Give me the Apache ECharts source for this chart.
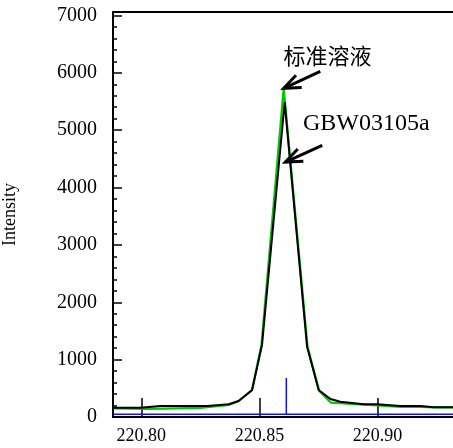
<!DOCTYPE html>
<html>
<head>
<meta charset="utf-8">
<script src="https://cdn.jsdelivr.net/npm/echarts@6/dist/echarts.min.js"></script>
</head>
<body style="margin:0">
<div id="main" style="width:453px;height:448px"></div>
<script>
// axis ranges and tick labels
var xRange = [220.788, 220.932];
var xTicks = [220.80, 220.85, 220.90];
var yRange = [0, 7060];
var yMajor = [0, 1000, 2000, 3000, 4000, 5000, 6000, 7000];
var yMinor = [];
for (var v = 0; v <= 7000; v += 200) yMinor.push(v);

// 标准溶液 (green)
var standard = [
  [220.7883, 150], [220.8040, 140], [220.8250, 160], [220.8370, 210],
  [220.8412, 279], [220.8469, 470], [220.8509, 1260], [220.8603, 5730],
  [220.8704, 1224], [220.8753, 460], [220.8803, 250], [220.8843, 240],
  [220.8942, 215], [220.9000, 200], [220.9100, 175], [220.9182, 175],
  [220.9239, 169], [220.9322, 169]
];
// GBW03105a (black)
var sample = [
  [220.7883, 162], [220.7996, 162], [220.8081, 192], [220.8278, 192],
  [220.8370, 221], [220.8412, 279], [220.8469, 470], [220.8511, 1254],
  [220.8607, 5490], [220.8702, 1224], [220.8751, 470], [220.8801, 313],
  [220.8843, 266], [220.8942, 221], [220.8999, 221], [220.9097, 192],
  [220.9182, 192], [220.9239, 169], [220.9322, 169]
];
// blue reference line
var baseline = 50;
var lineX = 220.8614;
var lineH = 680;

// annotations: text, text centre, arrow tail, arrow tip
var noteText = ['标准溶液', 'GBW03105a'];
var noteAt = [[220.8788, 6300], [220.8953, 5119]];
var noteTail = [[220.8758, 6025], [220.8766, 4736]];
var noteTip = [[220.8603, 5730], [220.8610, 4445]];
var noteFont = ['Noto Sans CJK SC', 'Liberation Serif'];

var chart = echarts.init(document.getElementById('main'));

var serif = 'Liberation Serif';
var labelText = { color: '#000', fontFamily: serif, fontStyle: 'normal', fontWeight: 'normal' };

chart.setOption({
  backgroundColor: '#fff',
  animation: false,
  textStyle: { fontFamily: serif },
  grid: { left: 113, right: 0, top: 12, bottom: 31, outerBoundsMode: 'none', containLabel: false },
  xAxis: [{
    type: 'value',
    min: xRange[0],
    max: xRange[1],
    axisLine: { lineStyle: { color: '#000', width: 2 } },
    axisTick: { inside: true, length: 19, customValues: xTicks, lineStyle: { color: '#000', width: 1.5 } },
    axisLabel: {
      customValues: xTicks, margin: 10,
      formatter: function (v) { return '{a|' + v.toFixed(2) + '}'; },
      rich: { a: Object.assign({ fontSize: 18 }, labelText) }
    },
    splitLine: { show: false }
  }, {
    type: 'value',
    position: 'top',
    min: xRange[0],
    max: xRange[1],
    axisLine: { show: true, onZero: false, lineStyle: { color: '#000', width: 2 } },
    axisTick: { show: false },
    axisLabel: { show: false },
    splitLine: { show: false }
  }],
  yAxis: [{
    type: 'value',
    min: yRange[0],
    max: yRange[1],
    name: 'Intensity',
    nameLocation: 'middle',
    nameRotate: 90,
    nameGap: 94,
    nameTextStyle: { color: '#000', fontFamily: serif, fontSize: 18 },
    axisLine: { show: true, lineStyle: { color: '#000', width: 2 } },
    axisTick: { inside: true, length: 9, customValues: yMajor, lineStyle: { color: '#000', width: 1.5 } },
    axisLabel: {
      customValues: yMajor, margin: 16,
      formatter: function (v) { return '{a|' + v + '}'; },
      rich: { a: Object.assign({ fontSize: 20 }, labelText) }
    },
    splitLine: { show: false }
  }, {
    type: 'value',
    position: 'left',
    min: yRange[0],
    max: yRange[1],
    axisLine: { show: false },
    axisTick: { inside: true, length: 4, customValues: yMinor, lineStyle: { color: '#000', width: 1.5 } },
    axisLabel: { show: false },
    splitLine: { show: false }
  }],
  series: [{
    type: 'line',
    data: [[xRange[0], baseline], [xRange[1], baseline]],
    symbol: 'none',
    lineStyle: { color: '#1010ff', width: 1.5 },
    z: 1
  }, {
    type: 'line',
    data: [[lineX, baseline], [lineX, lineH]],
    symbol: 'none',
    lineStyle: { color: '#1010ff', width: 1.5 },
    z: 1
  }, {
    type: 'line',
    name: '标准溶液',
    data: standard,
    symbol: 'none',
    lineStyle: { color: '#00c800', width: 2.2 },
    z: 2
  }, {
    type: 'line',
    name: 'GBW03105a',
    data: sample,
    symbol: 'none',
    lineStyle: { color: '#000', width: 2 },
    z: 3
  }]
});

// arrows and texts placed from data coordinates
var graphics = [];
for (var i = 0; i < noteText.length; i++) {
  var tip = chart.convertToPixel({ xAxisIndex: 0, yAxisIndex: 0 }, noteTip[i]);
  var tail = chart.convertToPixel({ xAxisIndex: 0, yAxisIndex: 0 }, noteTail[i]);
  var at = chart.convertToPixel({ xAxisIndex: 0, yAxisIndex: 0 }, noteAt[i]);
  var ang = Math.atan2(tail[1] - tip[1], tail[0] - tip[0]);
  var hl = 18, spread = 22 * Math.PI / 180;
  var h1 = [tip[0] + hl * Math.cos(ang - spread), tip[1] + hl * Math.sin(ang - spread)];
  var h2 = [tip[0] + hl * Math.cos(ang + spread), tip[1] + hl * Math.sin(ang + spread)];
  graphics.push({
    type: 'polyline', z: 10,
    shape: { points: [tail, tip] },
    style: { stroke: '#000', lineWidth: 3, fill: null }
  });
  graphics.push({
    type: 'polyline', z: 10,
    shape: { points: [h1, tip, h2] },
    style: { stroke: '#000', lineWidth: 3, fill: null, lineJoin: 'miter' }
  });
  graphics.push({
    type: 'text', z: 10,
    x: at[0], y: at[1],
    style: {
      text: noteText[i], fill: '#000',
      font: (i === 0 ? '22px ' : '24px ') + noteFont[i],
      align: 'center', verticalAlign: 'middle'
    }
  });
}
chart.setOption({ graphic: graphics });
</script>
</body>
</html>
